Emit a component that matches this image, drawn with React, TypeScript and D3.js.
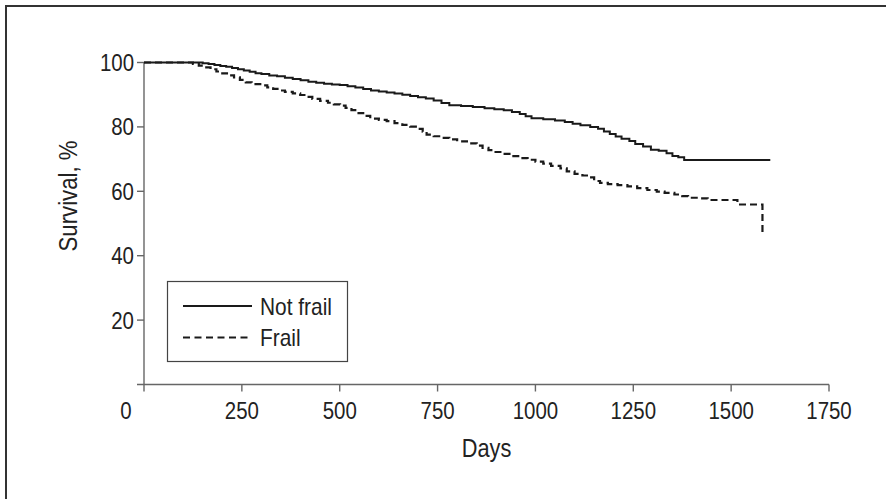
import React, { useRef, useEffect } from 'react';
import * as d3 from 'd3';

// Kaplan-Meier curves (day, survival %)
const notFrailDays = [0, 140, 150, 165, 180, 195, 210, 225, 240, 255, 270, 285, 300, 320, 340, 360, 380, 400, 420, 440, 460, 480, 500, 520, 540, 560, 580, 600, 620, 640, 660, 680, 700, 720, 740, 760, 780, 810, 840, 870, 895, 919, 940, 960, 975, 990, 1020, 1050, 1075, 1095, 1115, 1140, 1160, 1175, 1190, 1205, 1220, 1240, 1255, 1275, 1295, 1315, 1335, 1350, 1365, 1380, 1600];
const notFrailSurv = [100, 100, 99.8, 99.5, 99.2, 98.9, 98.7, 98.3, 97.9, 97.5, 97.1, 96.7, 96.4, 96.0, 95.7, 95.3, 94.9, 94.5, 94.0, 93.7, 93.4, 93.2, 93.0, 92.6, 92.2, 91.8, 91.3, 91.0, 90.7, 90.4, 90.0, 89.6, 89.2, 88.8, 88.2, 87.4, 86.7, 86.5, 86.2, 85.8, 85.5, 85.2, 84.6, 84.0, 83.3, 82.7, 82.4, 82.0, 81.5, 81.0, 80.5, 80.0, 79.4, 78.6, 77.8, 77.0, 76.3, 75.6, 74.7, 73.9, 72.9, 72.6, 71.8, 71.0, 70.6, 69.7, 69.7];

const frailDays = [0, 115, 125, 140, 155, 170, 185, 200, 215, 230, 245, 260, 275, 297, 315, 330, 345, 360, 380, 399, 415, 430, 450, 470, 485, 501, 515, 530, 545, 560, 578, 600, 620, 640, 660, 680, 700, 712, 722, 740, 760, 780, 800, 825, 850, 865, 880, 894, 915, 940, 960, 980, 1000, 1020, 1040, 1064, 1080, 1100, 1120, 1135, 1150, 1165, 1185, 1210, 1235, 1260, 1286, 1310, 1330, 1355, 1375, 1390, 1420, 1440, 1516, 1580, 1582];
const frailSurv = [100, 100, 99.6, 99.0, 98.5, 97.9, 97.2, 96.6, 96.0, 95.4, 94.6, 93.8, 93.3, 92.9, 92.3, 91.8, 91.3, 90.9, 90.4, 89.9, 89.3, 88.7, 88.1, 87.5, 87.0, 86.6, 85.9, 85.2, 84.3, 83.4, 82.6, 82.2, 81.8, 81.2, 80.6, 80.1, 79.4, 78.5, 77.6, 77.1, 76.6, 76.1, 75.5, 74.9, 74.2, 73.5, 72.8, 72.2, 71.6, 70.9, 70.3, 69.8, 69.2, 68.6, 67.9, 67.1, 66.2, 65.4, 64.9, 64.3, 63.2, 62.6, 62.2, 61.9, 61.5, 61.0, 60.4, 59.9, 59.5, 59.0, 58.5, 58.0, 57.8, 57.3, 55.9, 46.4, 46.4];

const xTicks = [0, 250, 500, 750, 1000, 1250, 1500, 1750];
const yTicks = [20, 40, 60, 80, 100];

const seriesNames = ['Not frail', 'Frail'];

// no narrow face installed, so Liberation Sans is squeezed horizontally
const FONT = "'Liberation Sans', Arial, sans-serif";
const SQUEEZE = 0.87;

const App = () => {
  const svgRef = useRef(null);

  useEffect(() => {
    const width = 886;
    const height = 499;
    const svg = d3.select(svgRef.current);
    svg.selectAll('*').remove();
    svg.attr('width', width).attr('height', height).style('font-family', FONT);

    const addText = (g, tx, ty, txt, size, anchor, rotate = 0) =>
      g.append('text')
        .attr('transform', `translate(${tx},${ty})${rotate ? ` rotate(${rotate})` : ''} scale(${SQUEEZE},1)`)
        .attr('text-anchor', anchor)
        .style('font-size', `${size}px`)
        .style('fill', '#222')
        .text(txt);

    // outer frame (cropped at right/bottom)
    svg.append('rect')
      .attr('x', 6).attr('y', 6)
      .attr('width', width + 20).attr('height', height + 20)
      .attr('fill', 'white')
      .attr('stroke', '#333')
      .attr('stroke-width', 2);

    const x = d3.scaleLinear().domain([0, 1750]).range([144, 829]);
    const y = d3.scaleLinear().domain([0, 100]).range([384.5, 62.5]);
    const axisColor = '#666';

    // y axis
    const gy = svg.append('g');
    gy.append('line')
      .attr('x1', x(0)).attr('x2', x(0))
      .attr('y1', y(100)).attr('y2', y(0))
      .attr('stroke', axisColor).attr('stroke-width', 1.4);
    yTicks.forEach(t => {
      gy.append('line')
        .attr('x1', x(0) - 7).attr('x2', x(0))
        .attr('y1', y(t)).attr('y2', y(t))
        .attr('stroke', axisColor).attr('stroke-width', 1.4);
      addText(gy, x(0) - 10, y(t) + 8.5, t, 23.5, 'end');
    });

    // x axis
    const gx = svg.append('g');
    gx.append('line')
      .attr('x1', x(0) - 7).attr('x2', x(1750))
      .attr('y1', y(0)).attr('y2', y(0))
      .attr('stroke', axisColor).attr('stroke-width', 1.4);
    xTicks.forEach(t => {
      gx.append('line')
        .attr('x1', x(t)).attr('x2', x(t))
        .attr('y1', y(0)).attr('y2', y(0) + 7)
        .attr('stroke', axisColor).attr('stroke-width', 1.4);
      addText(gx, t === 0 ? x(0) - 18 : x(t), y(0) + 34, t, 23.5, 'middle');
    });

    addText(svg, (x(0) + x(1750)) / 2, 457, 'Days', 25, 'middle');
    addText(svg, 77, 196, 'Survival, %', 25.5, 'middle', -90);

    const line = d3.line()
      .x(d => x(d[0]))
      .y(d => y(d[1]))
      .curve(d3.curveStepAfter);

    const notFrail = notFrailDays.map((d, i) => [d, notFrailSurv[i]]);
    const frail = frailDays.map((d, i) => [d, frailSurv[i]]);

    svg.append('path')
      .attr('d', line(notFrail))
      .attr('fill', 'none')
      .attr('stroke', '#1a1a1a')
      .attr('stroke-width', 2);

    svg.append('path')
      .attr('d', line(frail))
      .attr('fill', 'none')
      .attr('stroke', '#1a1a1a')
      .attr('stroke-width', 2.2)
      .attr('stroke-dasharray', '7,4');

    // legend
    const lg = svg.append('g');
    lg.append('rect')
      .attr('x', 167.5).attr('y', 281.5)
      .attr('width', 180).attr('height', 80)
      .attr('fill', 'white')
      .attr('stroke', '#444')
      .attr('stroke-width', 1.2);
    seriesNames.forEach((name, i) => {
      const ly = 306 + i * 31.5;
      lg.append('line')
        .attr('x1', 183).attr('x2', 252)
        .attr('y1', ly).attr('y2', ly)
        .attr('stroke', '#1a1a1a')
        .attr('stroke-width', 2)
        .attr('stroke-dasharray', i === 1 ? '7,4.5' : null);
      addText(lg, 260, ly + 8.5, name, 24, 'start');
    });
  }, []);

  return (
    <div style={{ position: 'absolute', left: 0, top: 0 }}>
      <svg ref={svgRef} style={{ display: 'block' }}></svg>
    </div>
  );
};

export default App;
